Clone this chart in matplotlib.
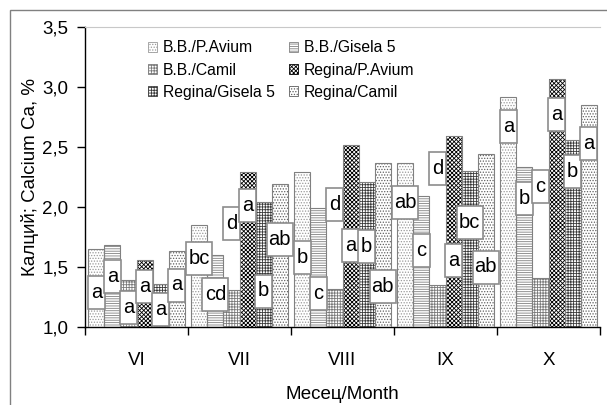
import matplotlib.pyplot as plt
from matplotlib.patches import Patch, Rectangle
from matplotlib.ticker import FuncFormatter

plt.rcParams['font.family'] = ['Liberation Sans', 'DejaVu Sans']
plt.rcParams['hatch.linewidth'] = 0.6

months = ["VI", "VII", "VIII", "IX", "X"]
series = ["B.B./P.Avium", "B.B./Gisela 5", "B.B./Camil",
          "Regina/P.Avium", "Regina/Gisela 5", "Regina/Camil"]

bb_pavium = [1.65, 1.85, 2.29, 2.37, 2.92]
bb_gisela = [1.68, 1.60, 1.99, 2.09, 2.33]
bb_camil = [1.39, 1.31, 1.32, 1.35, 1.41]
rg_pavium = [1.56, 2.29, 2.52, 2.59, 3.07]
rg_gisela = [1.36, 2.04, 2.205, 2.30, 2.56]
rg_camil = [1.63, 2.19, 2.37, 2.44, 2.85]
values = [bb_pavium, bb_gisela, bb_camil, rg_pavium, rg_gisela, rg_camil]

# significance letters per series, per month
letters = [
    ["a", "bc", "b", "ab", "a"],
    ["a", "cd", "c", "c", "b"],
    ["a", "d", "d", "d", "c"],
    ["a", "a", "a", "a", "a"],
    ["a", "b", "b", "bc", "b"],
    ["a", "ab", "ab", "ab", "a"],
]
# where the letter boxes sit (y of box centre)
label_pos = [
    [1.29, 1.57, 1.58, 2.04, 2.67],
    [1.42, 1.27, 1.28, 1.64, 2.07],
    [1.16, 1.86, 2.02, 2.32, 2.175],
    [1.34, 2.01, 1.68, 1.555, 2.77],
    [1.145, 1.30, 1.67, 1.87, 2.30],
    [1.35, 1.73, 1.34, 1.50, 2.53],
]

styles = [
    ("......", "#9a9a9a"),
    ("-------", "#808080"),
    ("++++++", "#7a7a7a"),
    ("xxxxxxxx", "#000000"),
    ("++++++", "#3a3a3a"),
    ("......", "#606060"),
]

fig = plt.figure(figsize=(6.07, 4.05), dpi=100)
ax = fig.add_axes([85 / 607, 1 - 327 / 405, 515 / 607, 300 / 405])

# outer chart frame
fig.patches.append(Rectangle((10 / 607, -0.1), 1.2, 0.975 + 0.1,
                             transform=fig.transFigure, fill=False,
                             edgecolor="#808080", linewidth=1))

w = 0.156
for j, vals in enumerate(values):
    xs = [i + (j - 2.5) * w for i in range(len(months))]
    heights = [v - 1.0 for v in vals]
    hatch, hc = styles[j]
    ax.bar(xs, heights, w, bottom=1.0, color="white", hatch=hatch,
           edgecolor=hc, linewidth=0, zorder=2)
    ax.bar(xs, heights, w, bottom=1.0, fill=False, edgecolor="#808080",
           linewidth=0.8, zorder=3)
    for i, x in enumerate(xs):
        txt = letters[j][i]
        bw = 0.165 if len(txt) == 1 else 0.252
        y = label_pos[j][i]
        ax.add_patch(Rectangle((x - bw / 2, y - 0.1375), bw, 0.275,
                               facecolor="white", edgecolor="#8c8c8c",
                               linewidth=1.2, zorder=4))
        ax.text(x, y, txt, ha="center", va="center", fontsize=14.5, zorder=5)

ax.set_xlim(-0.5, 4.5)
ax.set_ylim(1.0, 3.5)
ax.set_yticks([1.0, 1.5, 2.0, 2.5, 3.0, 3.5])
ax.yaxis.set_major_formatter(FuncFormatter(lambda v, p: f"{v:.1f}".replace(".", ",")))
ax.set_xticks([i - 0.5 for i in range(len(months) + 1)])
ax.set_xticklabels([])
ax.set_xticks(range(len(months)), months, minor=True)
ax.tick_params(axis="x", which="minor", length=0, pad=18, labelsize=13.5)
ax.tick_params(axis="x", which="major", length=6, direction="out", width=1)
ax.tick_params(axis="y", length=6, direction="out", width=1, labelsize=13.5, pad=6)

ax.spines["right"].set_visible(False)
ax.spines["top"].set_color("#c8c8c8")
ax.spines["top"].set_linewidth(0.8)
ax.spines["left"].set_linewidth(1)
ax.spines["bottom"].set_linewidth(1)

ax.set_ylabel("Калций; Calcium Ca, %", fontsize=13.5, labelpad=2)
ax.set_xlabel("Месец/Month", fontsize=13.5, labelpad=12)

handles = [Patch(facecolor="white", hatch=styles[j][0], edgecolor=styles[j][1],
                 linewidth=0.6) for j in range(6)]
order = [0, 2, 4, 1, 3, 5]
ax.legend([handles[k] for k in order], [series[k] for k in order], ncol=2,
          frameon=False, fontsize=11.3, loc="upper left",
          bbox_to_anchor=(63 / 515, 0.955), borderaxespad=0, borderpad=0,
          handlelength=0.6, handleheight=0.6, handletextpad=0.35,
          columnspacing=0.9, labelspacing=0.45)

fig.savefig("out.png", dpi=100)
